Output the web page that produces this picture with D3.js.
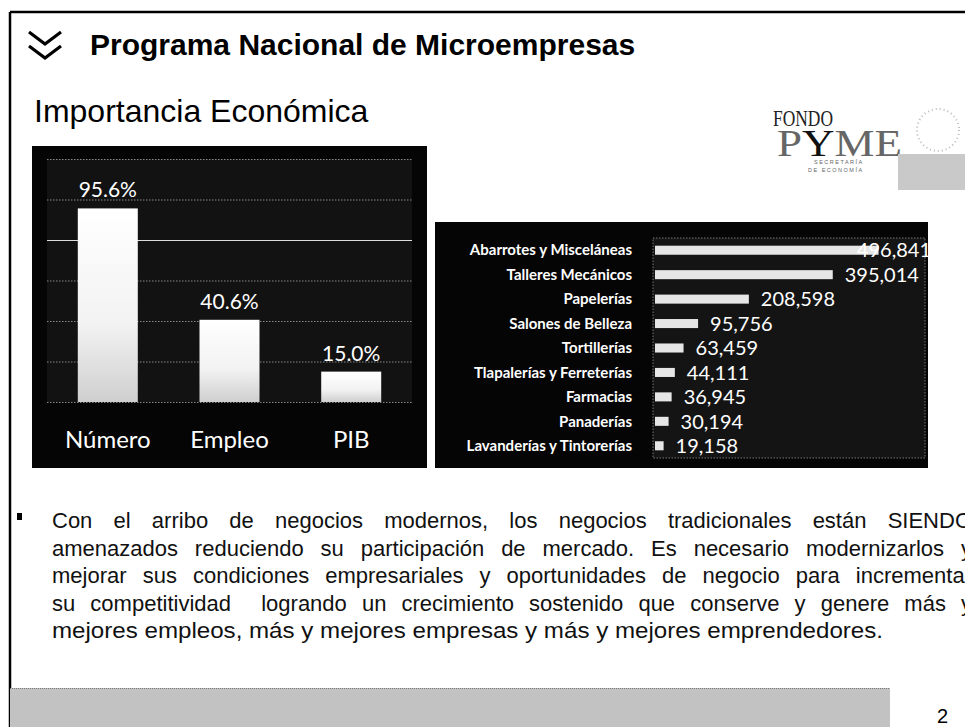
<!DOCTYPE html>
<html>
<head>
<meta charset="utf-8">
<script src="https://cdn.jsdelivr.net/npm/d3@7"></script>
<style>
  body { margin: 0; background: #fff; }
  svg { display: block; }
</style>
</head>
<body>
<div id="container"></div>
<script>
/** DATA */
const resumenCats = ["Número", "Empleo", "PIB"];
const resumenVals = [95.6, 40.6, 15.0];
const pctTicks = [0, 20, 40, 60, 80, 100, 120];

const giroCats = ["Abarrotes y Misceláneas", "Talleres Mecánicos", "Papelerías", "Salones de Belleza",
  "Tortillerías", "Tlapalerías y Ferreterías", "Farmacias", "Panaderías", "Lavanderías y Tintorerías"];
const giroVals = [496841, 395014, 208598, 95756, 63459, 44111, 36945, 30194, 19158];

const bodyLines = [
  "Con el arribo de negocios modernos, los negocios tradicionales están SIENDO",
  "amenazados reduciendo su participación de mercado. Es necesario modernizarlos y",
  "mejorar sus condiciones empresariales y oportunidades de negocio para incrementar",
  "su competitividad  logrando un crecimiento sostenido que conserve y genere más y",
  "mejores empleos, más y mejores empresas y más y mejores emprendedores."
];

const width = 965, height = 727;
const calibri = "Lato, 'Open Sans', sans-serif";
const arial = "'Liberation Sans', Arial, sans-serif";

const svg = d3.select("#container").append("svg")
  .attr("width", width).attr("height", height);

// page frame
svg.append("line").attr("x1", 10).attr("x2", width).attr("y1", 12).attr("y2", 12)
  .attr("stroke", "#000").attr("stroke-width", 2.5);
svg.append("line").attr("x1", 10).attr("x2", 10).attr("y1", 12).attr("y2", height)
  .attr("stroke", "#000").attr("stroke-width", 2.5);

// chevron + title
svg.append("path")
  .attr("d", "M29,32 L45,44 L61,32 M29,46 L45,58 L61,46")
  .attr("fill", "none").attr("stroke", "#000").attr("stroke-width", 3.2);
svg.append("text").attr("x", 90).attr("y", 55)
  .attr("font-family", arial).attr("font-weight", "bold").attr("font-size", 30)
  .text("Programa Nacional de Microempresas");
svg.append("text").attr("x", 34).attr("y", 122)
  .attr("font-family", arial).attr("font-size", 32)
  .text("Importancia Económica");

// logo
const logo = svg.append("g");
logo.append("text").attr("x", 773).attr("y", 126)
  .attr("font-family", "'Liberation Serif', serif").attr("font-size", 23)
  .attr("textLength", 60).attr("lengthAdjust", "spacingAndGlyphs")
  .attr("fill", "#222").text("FONDO");
const pyme = logo.append("text").attr("x", 777).attr("y", 156)
  .attr("font-family", "'Liberation Serif', serif").attr("font-size", 38)
  .attr("textLength", 125).attr("lengthAdjust", "spacingAndGlyphs");
pyme.append("tspan").attr("fill", "#666").text("P");
pyme.append("tspan").attr("fill", "#111").text("Y");
pyme.append("tspan").attr("fill", "#666").text("ME");
logo.append("text").attr("x", 814).attr("y", 164)
  .attr("font-family", arial).attr("font-size", 5.5).attr("letter-spacing", 1.5)
  .attr("fill", "#666").text("SECRETARÍA");
logo.append("text").attr("x", 808).attr("y", 172)
  .attr("font-family", arial).attr("font-size", 5.5).attr("letter-spacing", 1.5)
  .attr("fill", "#666").text("DE ECONOMÍA");
logo.append("circle").attr("cx", 938).attr("cy", 130).attr("r", 21)
  .attr("fill", "none").attr("stroke", "#bbb").attr("stroke-width", 2).attr("stroke-dasharray", "1 3");
logo.append("rect").attr("x", 898).attr("y", 154).attr("width", 67).attr("height", 36)
  .attr("fill", "#c9c9c9");

/* LEFT CHART */
const left = svg.append("g");
left.append("rect").attr("x", 32).attr("y", 146).attr("width", 395).attr("height", 322).attr("fill", "#050505");

const x1 = d3.scaleBand().domain(resumenCats).range([47, 412])
  .paddingInner(0.507).paddingOuter(0.253);
const y1 = d3.scaleLinear().domain([0, 120]).range([402, 159]);

left.append("rect").attr("x", 47).attr("y", y1(120)).attr("width", 365).attr("height", y1(0) - y1(120))
  .attr("fill", "#121212");

const grid1 = left.append("g").attr("transform", "translate(47,0)")
  .call(d3.axisLeft(y1).tickValues(pctTicks).tickSize(-365).tickFormat(""));
grid1.select(".domain").remove();
grid1.selectAll("line")
  .attr("stroke", d => d === 80 ? "#ddd" : "#888")
  .attr("stroke-dasharray", d => d === 80 ? null : "1.5 1.5");

const grad = svg.append("defs").append("linearGradient").attr("id", "barfade")
  .attr("x1", 0).attr("x2", 0).attr("y1", 0).attr("y2", 1);
grad.append("stop").attr("offset", "0%").attr("stop-color", "#fff");
grad.append("stop").attr("offset", "60%").attr("stop-color", "#f2f2f2");
grad.append("stop").attr("offset", "100%").attr("stop-color", "#cfcfcf");

left.selectAll("rect.bar").data(resumenVals).join("rect").attr("class", "bar")
  .attr("x", (d, i) => x1(resumenCats[i]))
  .attr("y", d => y1(d))
  .attr("width", x1.bandwidth())
  .attr("height", d => y1(0) - y1(d))
  .attr("fill", "url(#barfade)");

left.selectAll("text.val").data(resumenVals).join("text").attr("class", "val")
  .attr("x", (d, i) => x1(resumenCats[i]) + x1.bandwidth() / 2)
  .attr("y", d => y1(d) - 11)
  .attr("text-anchor", "middle")
  .attr("font-family", calibri).attr("font-size", 21).attr("fill", "#fff")
  .text(d => d.toFixed(1) + "%");

left.selectAll("text.cat").data(resumenCats).join("text").attr("class", "cat")
  .attr("x", d => x1(d) + x1.bandwidth() / 2)
  .attr("y", 448)
  .attr("text-anchor", "middle")
  .attr("font-family", calibri).attr("font-size", 24).attr("fill", "#fff")
  .text(d => d);

/* RIGHT CHART */
const right = svg.append("g");
right.append("rect").attr("x", 435).attr("y", 222).attr("width", 493).attr("height", 246).attr("fill", "#050505");

const y2 = d3.scaleBand().domain(giroCats).range([238, 458]).paddingInner(0.63).paddingOuter(0.315);
const x2 = d3.scaleLinear().domain([0, 600000]).range([655, 925]);

right.append("rect").attr("x", x2(0) - 2).attr("y", 238).attr("width", x2.range()[1] - x2(0) + 2).attr("height", 220)
  .attr("fill", "#141414").attr("stroke", "#777").attr("stroke-dasharray", "1.5 1.5");

right.selectAll("rect.bar").data(giroVals).join("rect").attr("class", "bar")
  .attr("x", x2(0))
  .attr("y", (d, i) => y2(giroCats[i]))
  .attr("width", d => x2(d) - x2(0))
  .attr("height", y2.bandwidth())
  .attr("fill", "#e6e6e6");

right.selectAll("text.cat").data(giroCats).join("text").attr("class", "cat")
  .attr("x", 632)
  .attr("y", d => y2(d) + y2.bandwidth() / 2)
  .attr("dy", "0.35em")
  .attr("text-anchor", "end")
  .attr("font-family", calibri).attr("font-weight", "bold").attr("font-size", 15).attr("fill", "#fff")
  .text(d => d);

const fmt = d3.format(",");
right.selectAll("text.val").data(giroVals).join("text").attr("class", "val")
  .attr("y", (d, i) => y2(giroCats[i]) + y2.bandwidth() / 2)
  .attr("dy", "0.36em")
  .attr("font-family", calibri).attr("font-size", 20).attr("fill", "#fff")
  .text(d => fmt(d))
  .attr("x", function (d) {
    const w = this.getComputedTextLength();
    return Math.min(x2(d) + 12, 931 - w);
  });

/* BODY TEXT */
svg.append("rect").attr("x", 17).attr("y", 513).attr("width", 5).attr("height", 7).attr("fill", "#000");

const textLeft = 52, textRight = 972, lastRight = 883, lineGap = 27.5, firstBase = 528;
bodyLines.forEach((line, i) => {
  const yy = firstBase + i * lineGap;
  const t = svg.append("text").attr("x", textLeft).attr("y", yy)
    .attr("font-family", arial).attr("font-size", 22).attr("fill", "#111")
    .style("white-space", "pre")
    .text(line);
  const w = t.node().getComputedTextLength();
  const target = (i === bodyLines.length - 1 ? lastRight : textRight) - textLeft;
  if (w > target || i === bodyLines.length - 1) {
    t.attr("textLength", target).attr("lengthAdjust", "spacingAndGlyphs");
  } else {
    const words = line.split(" ");
    const extra = (target - w) / (words.length - 1);
    t.attr("word-spacing", extra);
  }
});

/* FOOTER */
svg.append("rect").attr("x", 10).attr("y", 688).attr("width", 880).attr("height", 39).attr("fill", "#c2c2c2");
svg.append("line").attr("x1", 10).attr("x2", 890).attr("y1", 688.5).attr("y2", 688.5)
  .attr("stroke", "#777").attr("stroke-dasharray", "1 1");
svg.append("text").attr("x", 937).attr("y", 723)
  .attr("font-family", arial).attr("font-size", 20).text("2");
</script>
</body>
</html>
